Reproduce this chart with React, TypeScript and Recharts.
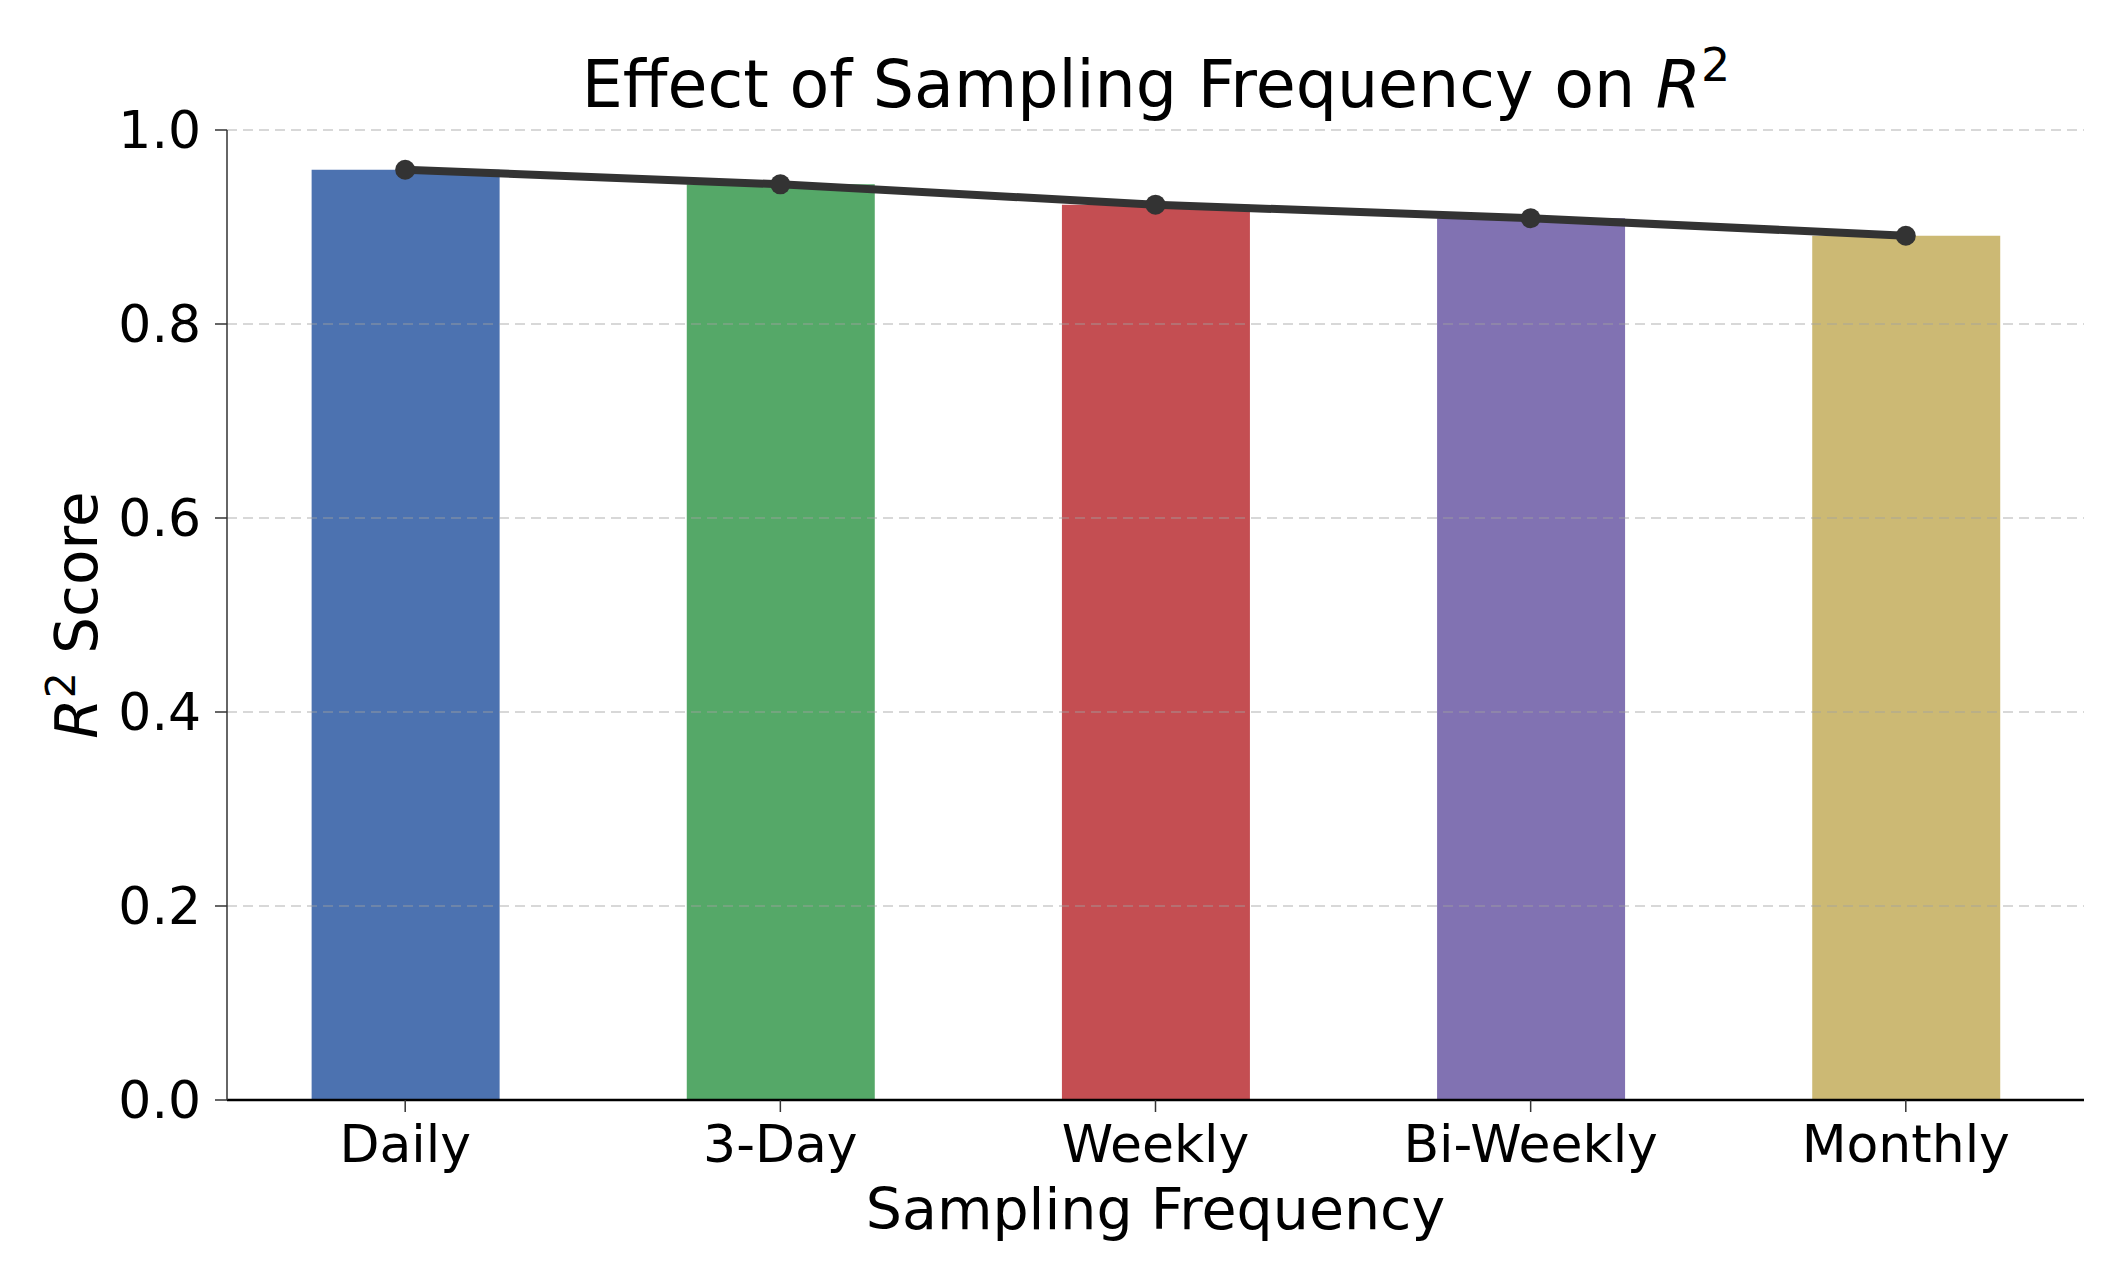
import { Bar, Cell, ComposedChart, Label, Line, ReferenceLine, XAxis, YAxis } from 'recharts'

// R² por frequência de amostragem — barras + linha de tendência por cima.

const categories = ['Daily', '3-Day', 'Weekly', 'Bi-Weekly', 'Monthly']
const r2Scores = [0.959, 0.944, 0.923, 0.909, 0.891]
const barColors = ['#4C72B0', '#55A868', '#C44E52', '#8172B2', '#CCB974']
const yTicks = [0, 0.2, 0.4, 0.6, 0.8, 1.0]
const gridTicks = [0.2, 0.4, 0.6, 0.8, 1.0]

const data = categories.map((name, i) => ({ x: i, name, r2: r2Scores[i] }))
const xTicks = categories.map((_, i) => i)

const FONT = 'DejaVu Sans'
const W = 2120
const H = 1275

function YTitle({ viewBox }: any) {
  const cy = viewBox.y + viewBox.height / 2
  const bx = 97
  return (
    <text
      x={bx}
      y={cy}
      transform={`rotate(-90, ${bx}, ${cy})`}
      textAnchor="middle"
      fontFamily={FONT}
      fontSize={58}
      fill="#000"
    >
      <tspan fontStyle="italic">R</tspan>
      <tspan fontSize={41} dy={-22}>2</tspan>
      <tspan dy={22}> Score</tspan>
    </text>
  )
}

function XTitle({ viewBox }: any) {
  return (
    <text
      x={viewBox.x + viewBox.width / 2}
      y={viewBox.y + 129}
      textAnchor="middle"
      fontFamily={FONT}
      fontSize={57}
      fill="#000"
    >
      Sampling Frequency
    </text>
  )
}

export default function App() {
  return (
    <div style={{ position: 'absolute', left: 0, top: 0, width: W, height: H, background: '#fff' }}>
      <ComposedChart width={W} height={H} data={data} margin={{ top: 130, right: 36, left: 0, bottom: 0 }}>
        <XAxis
          type="number"
          dataKey="x"
          domain={[-0.475, 4.475]}
          ticks={xTicks}
          interval={0}
          allowDataOverflow
          height={175}
          tickFormatter={(v: number) => categories[v] ?? ''}
          tick={{ fontFamily: FONT, fontSize: 52, fill: '#000' }}
          tickSize={12}
          tickMargin={13}
          tickLine={{ stroke: '#333', strokeWidth: 1.5 }}
          axisLine={{ stroke: '#000', strokeWidth: 2.5 }}
        >
          <Label content={XTitle} />
        </XAxis>
        <YAxis
          type="number"
          domain={[0, 1]}
          ticks={yTicks}
          interval={0}
          width={227}
          tickFormatter={(v: number) => v.toFixed(1)}
          tick={{ fontFamily: FONT, fontSize: 52, fill: '#000' }}
          tickSize={12}
          tickMargin={14}
          tickLine={{ stroke: '#333', strokeWidth: 1.5 }}
          axisLine={{ stroke: '#333', strokeWidth: 1.5 }}
        >
          <Label content={YTitle} />
        </YAxis>
        <Bar dataKey="r2" barSize={188} isAnimationActive={false}>
          {data.map((d, i) => (
            <Cell key={d.name} fill={barColors[i]} />
          ))}
        </Bar>
        {gridTicks.map((v) => (
          <ReferenceLine
            key={v}
            y={v}
            stroke="#a0a0a0"
            strokeOpacity={0.55}
            strokeWidth={1.5}
            strokeDasharray="10 6"
          />
        ))}
        <Line
          type="linear"
          dataKey="r2"
          stroke="#333333"
          strokeWidth={8}
          dot={{ r: 10, fill: '#333333', stroke: 'none' }}
          isAnimationActive={false}
        />
      </ComposedChart>
      <svg width={W} height={H} style={{ position: 'absolute', left: 0, top: 0, pointerEvents: 'none' }}>
        <text x={1156} y={107} textAnchor="middle" fontFamily={FONT} fontSize={65} fill="#000">
          Effect of Sampling Frequency on <tspan fontStyle="italic">R</tspan>
          <tspan fontSize={46} dy={-26}>2</tspan>
        </text>
      </svg>
    </div>
  )
}
